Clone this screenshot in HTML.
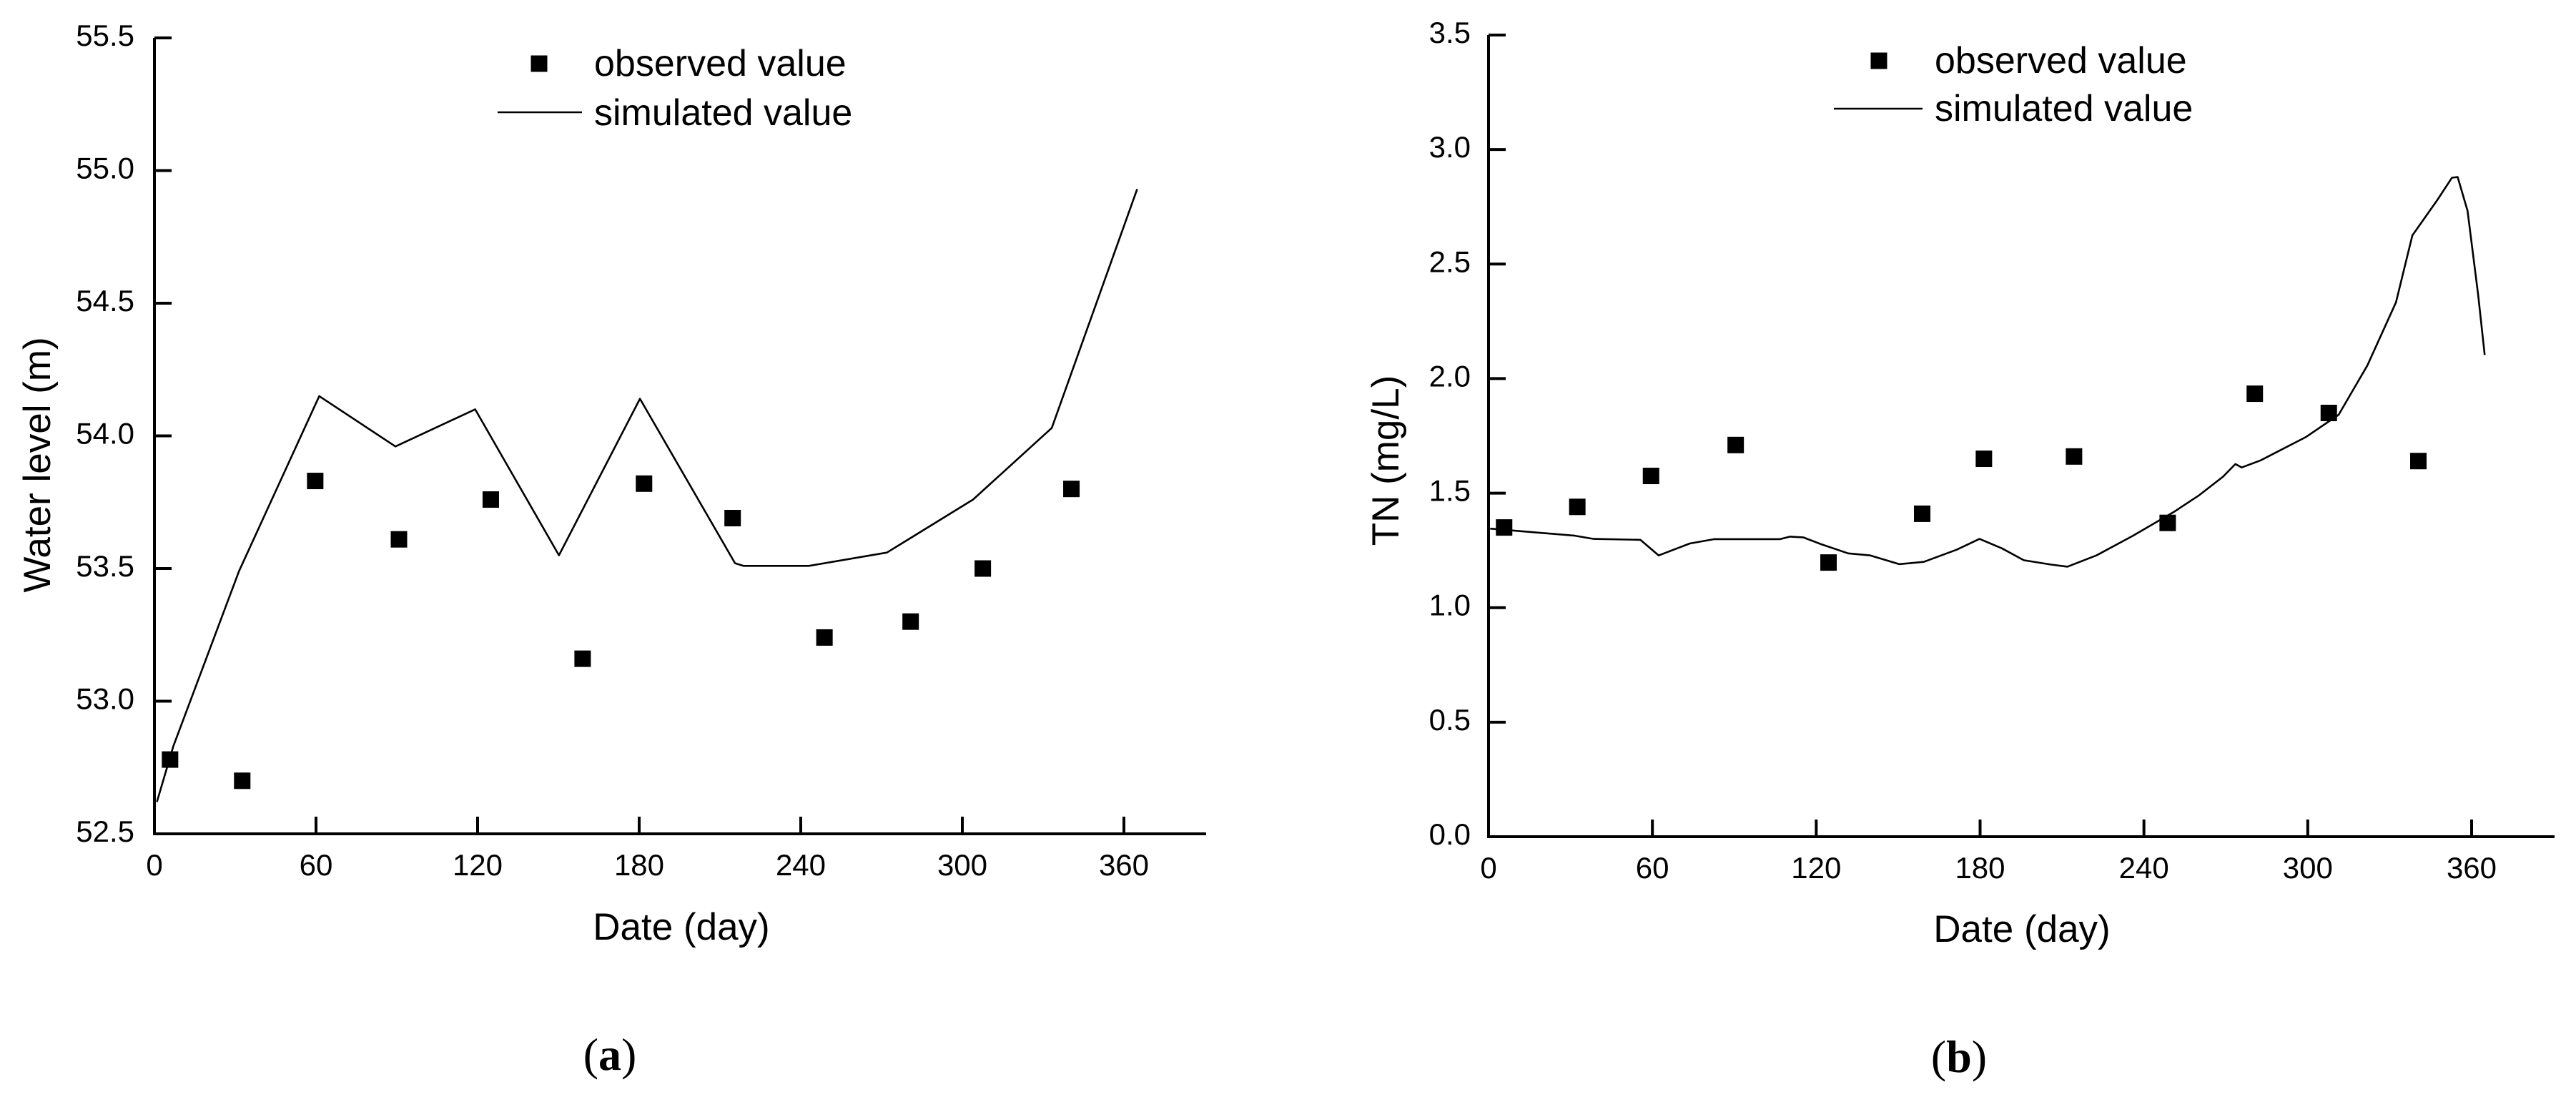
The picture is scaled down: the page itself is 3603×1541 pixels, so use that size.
<!DOCTYPE html>
<html><head><meta charset="utf-8"><style>
html,body{margin:0;padding:0;background:#fff;}
svg{display:block;}
text{font-family:"Liberation Sans",sans-serif;fill:#000;}
</style></head><body>
<svg id="root" xmlns="http://www.w3.org/2000/svg" width="3603" height="1541" viewBox="0 0 3603 1541"></svg>
<script>
// ---- Panel (a) data: water level ----
const aObsDays = [5.8, 32.6, 59.7, 90.8, 124.9, 159, 181.8, 214.7, 248.8, 280.8, 307.6, 340.5];
const aObsVals = [52.78, 52.70, 53.83, 53.61, 53.76, 53.16, 53.82, 53.69, 53.24, 53.30, 53.50, 53.80];
const aSimDays = [0.9, 7, 31.4, 61.2, 89.5, 119.1, 150.2, 180.3, 215.6, 218.7, 243, 272, 304, 333.2, 364.9];
const aSimVals = [52.62, 52.83, 53.49, 54.15, 53.96, 54.10, 53.55, 54.14, 53.52, 53.51, 53.51, 53.56, 53.76, 54.03, 54.93];
const aYTicks = ["52.5","53.0","53.5","54.0","54.5","55.0","55.5"];
const xTicks = ["0","60","120","180","240","300","360"];
// ---- Panel (b) data: TN ----
const bObsDays = [5.7, 32.5, 59.5, 90.5, 124.5, 158.8, 181.4, 214.4, 248.7, 280.6, 307.7, 340.5];
const bObsVals = [1.35, 1.44, 1.575, 1.71, 1.197, 1.41, 1.65, 1.66, 1.37, 1.934, 1.85, 1.64];
const bSimDays = [0.6, 31.6, 38.5, 55.6, 62.3, 73.7, 82.7, 106.8, 110.4, 115.2, 121.8, 131.7, 139.8, 150.4, 159.4, 171.4, 179.8, 188, 196, 206, 212, 222.6, 236, 251, 260, 269, 273.5, 275.8, 282.7, 299.2, 311.3, 321.8, 332.3, 338.3, 347.4, 352.8, 354.9, 358.5, 362.4, 364.8];
const bSimVals = [1.345, 1.314, 1.30, 1.296, 1.228, 1.28, 1.299, 1.299, 1.31, 1.307, 1.277, 1.237, 1.228, 1.19, 1.20, 1.253, 1.30, 1.259, 1.207, 1.188, 1.179, 1.228, 1.314, 1.418, 1.489, 1.572, 1.627, 1.612, 1.643, 1.744, 1.842, 2.057, 2.333, 2.625, 2.779, 2.877, 2.88, 2.733, 2.364, 2.103];
const bYTicks = ["0.0","0.5","1.0","1.5","2.0","2.5","3.0","3.5"];

const NS = "http://www.w3.org/2000/svg";
const root = document.getElementById('root');
function mk(tag, attrs, parent){const e=document.createElementNS(NS,tag);for(const k in attrs)e.setAttribute(k,attrs[k]);(parent||root).appendChild(e);return e;}

function panel(o){
  const g = mk('g',{});
  
  
  const xs = d => o.x0 + (d - 0) / 360 * (o.x360 - o.x0);
  const ys = v => o.yBot - (v - o.yMin) / (o.yMax - o.yMin) * (o.yBot - o.yTop);
  // axes
  const ax = mk('path',{d:`M${o.x0} ${o.yTop}H${o.x0+24}M${o.x0} ${o.yTop}V${o.yBot}H${o.xEnd}`,stroke:'#000','stroke-width':4,fill:'none'},g);
  
  
  // y ticks
  o.yTicks.forEach(t=>{
    const y = ys(parseFloat(t));
    const tk = mk('line',{x1:o.x0,x2:o.x0+24,y1:y,y2:y,stroke:'#000','stroke-width':4},g);
    
    
    const tl = mk('text',{x:o.yLabRight,y:y+11,'text-anchor':'end','font-size':42},g);
    tl.textContent = t;
    
    
  });
  xTicks.forEach(t=>{
    const x = xs(parseFloat(t));
    const tk = mk('line',{x1:x,x2:x,y1:o.yBot,y2:o.yBot-24,stroke:'#000','stroke-width':4},g);
    
    
    const tl = mk('text',{x:x,y:o.yBot+58,'text-anchor':'middle','font-size':42},g);
    tl.textContent = t;
    
    
  });
  // sim line
  const pts = o.simD.map((d,i)=>`${xs(d).toFixed(1)},${ys(o.simV[i]).toFixed(1)}`).join(' ');
  const pl = mk('polyline',{points:pts,fill:'none',stroke:'#000','stroke-width':2.6,'stroke-linejoin':'round'},g);
  
  
  // observed
  o.obsD.forEach((d,i)=>{
    const r = mk('rect',{x:xs(d)-11.5,y:ys(o.obsV[i])-11.5,width:23,height:23,fill:'#000'},g);
    
    
  });
  // legend
  const ls = mk('rect',{x:o.legSqX-11.5,y:o.legSqY-11.5,width:23,height:23,fill:'#000'},g);
  
  
  const lt1 = mk('text',{x:o.legTxtX,y:o.legB1,'font-size':52},g);
  lt1.textContent = 'observed value';
  
  
  const ll = mk('line',{x1:o.legL1,x2:o.legL2,y1:o.legLY,y2:o.legLY,stroke:'#000','stroke-width':2.6},g);
  
  
  const lt2 = mk('text',{x:o.legTxtX,y:o.legB2,'font-size':52},g);
  lt2.textContent = 'simulated value';
  
  
  // titles
  const xt = mk('text',{x:o.xtX,y:o.xtY,'text-anchor':'middle','font-size':53},g);
  xt.textContent = 'Date (day)';
  
  
  const yt = mk('text',{x:0,y:0,'text-anchor':'middle','font-size':53,transform:`translate(${o.ytX},${o.ytY}) rotate(-90)`},g);
  yt.textContent = o.yTitle;
  
  
  const pt = mk('text',{x:o.ptX,y:o.ptY,'text-anchor':'middle','font-size':64,style:'font-family:"Liberation Serif",serif'},g);
  pt.innerHTML = '(<tspan font-weight="bold">'+o.panelLetter+'</tspan>)';
  
  
}

panel({name:'panel-a-water-level', x0:216, x360:1572, xEnd:1687, yTop:53, yBot:1166, yMin:52.5, yMax:55.5,
  yTicks:aYTicks, yLabRight:188, simD:aSimDays, simV:aSimVals, obsD:aObsDays, obsV:aObsVals,
  legSqX:754, legSqY:89, legTxtX:831, legB1:106, legB2:175, legL1:696, legL2:814, legLY:157,
  xtX:953, xtY:1314, ytX:70, ytY:650, yTitle:'Water level (m)', ptX:853, ptY:1496, panelLetter:'a'});
panel({name:'panel-b-tn', x0:2082, x360:3457, xEnd:3573, yTop:49, yBot:1170, yMin:0, yMax:3.5,
  yTicks:bYTicks, yLabRight:2057, simD:bSimDays, simV:bSimVals, obsD:bObsDays, obsV:bObsVals,
  legSqX:2628, legSqY:85, legTxtX:2706, legB1:102, legB2:169, legL1:2565, legL2:2689, legLY:152,
  xtX:2828, xtY:1317, ytX:1956, ytY:644, yTitle:'TN (mg/L)', ptX:2740, ptY:1499, panelLetter:'b'});
</script>
</body></html>
